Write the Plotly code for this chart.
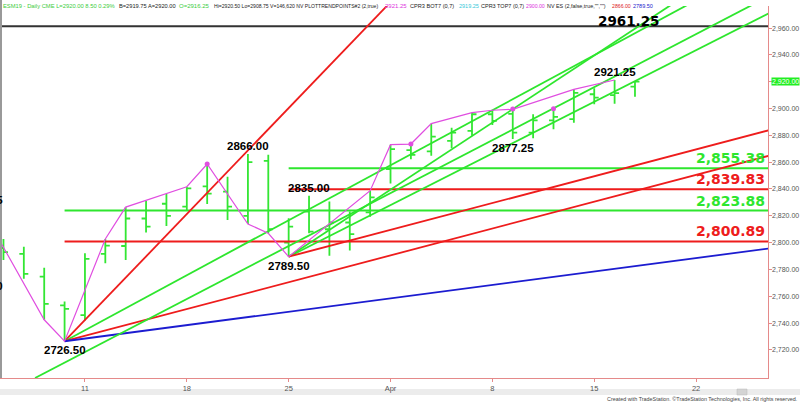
import plotly.graph_objects as go

# ---------------- data ----------------
# trading-day index: 0 = Mar 11, 2019 ; -1 = Mar 8 ...
bar_idx = list(range(-4, 28))
opens  = [2796.0, 2791.6, 2774.7, 2753.2, 2746.0, 2791.6, 2797.5, 2818.0, 2829.0, 2826.8,
          2842.0, 2838.0, 2820.0, 2861.0, 2800.0, 2823.1, 2810.0, 2815.0, 2822.5, 2854.8,
          2868.9, 2868.0, 2875.8, 2883.3, 2895.7, 2896.0, 2882.0, 2891.2, 2892.0, 2910.6,
          2910.0, 2916.25]
highs  = [2802.7, 2797.0, 2781.2, 2756.1, 2792.0, 2802.7, 2826.5, 2831.0, 2836.3, 2841.7,
          2858.6, 2849.2, 2866.0, 2865.5, 2818.2, 2835.0, 2830.7, 2823.3, 2838.7, 2873.0,
          2873.5, 2888.7, 2885.7, 2896.9, 2898.7, 2899.4, 2895.7, 2898.7, 2914.3, 2915.0,
          2921.25, 2920.5]
lows   = [2787.1, 2773.0, 2742.5, 2726.5, 2742.0, 2784.6, 2787.0, 2807.5, 2812.4, 2824.3,
          2828.8, 2816.9, 2813.9, 2807.0, 2789.5, 2807.0, 2790.3, 2794.1, 2819.3, 2844.0,
          2862.2, 2864.7, 2870.4, 2879.6, 2887.7, 2877.25, 2877.8, 2884.5, 2889.4, 2903.1,
          2903.6, 2908.75]
closes = [2793.0, 2776.7, 2754.4, 2750.7, 2787.9, 2797.8, 2818.0, 2812.0, 2820.0, 2840.5,
          2836.6, 2826.8, 2860.0, 2810.0, 2812.0, 2808.2, 2815.0, 2806.4, 2833.7, 2869.7,
          2865.4, 2879.0, 2882.0, 2895.7, 2890.7, 2882.0, 2891.2, 2893.7, 2911.7, 2908.1,
          2911.5, 2920.0]

tick_vals = [0, 5, 10, 15, 20, 25, 30]
tick_text = ["11", "18", "25", "Apr", "8", "15", "22"]
y_ticks = [2720, 2740, 2760, 2780, 2800, 2820, 2840, 2860, 2880, 2900, 2940, 2960]

# zigzag (PLOTTRENDPOINTS) path
zz_x = [-5, -2, -1, 1, 2, 5, 6, 8, 9, 10, 14, 15, 16, 17, 19, 20, 21, 24, 26]
zz_y = [2823.5, 2742.5, 2726.5, 2802.7, 2826.5, 2841.7, 2858.6, 2813.9, 2807.0, 2789.5,
        2838.7, 2873.0, 2873.5, 2888.7, 2896.9, 2898.7, 2899.4, 2914.3, 2921.25]
dot_x = [6, 16, 21, 23]
dot_y = [2858.6, 2873.6, 2899.6, 2899.8]

# trend lines: anchor index, anchor price, points per bar, colour
tl_x0    = [-1, -1, -1, -1, -2.45, 10, 10, 10]
tl_p0    = [2726.5, 2726.5, 2726.5, 2726.5, 2699.1, 2789.5, 2789.5, 2789.5]
tl_slope = [15.8, 8.2, 4.0, 2.0, 7.9, 10.0, 7.7, 4.0]
tl_color = ["red", "green", "red", "blue", "green", "green", "green", "red"]

# horizontal levels
lvl_price = [2961.25, 2855.38, 2839.83, 2823.88, 2800.89]
lvl_start = [-4.2, 10, 10, -1, -1]
lvl_color = ["black", "green", "red", "green", "red"]
lvl_text  = ["2961.25", "2,855.38", "2,839.83", "2,823.88", "2,800.89"]

# point labels
pt_text = ["2726.50", "2866.00", "2835.00", "2789.50", "2877.25", "2921.25"]
pt_x    = [-1, 8, 11, 10, 21, 26]
pt_y    = [2726.5, 2866.0, 2835.0, 2789.5, 2877.25, 2921.25]
pt_pos  = ["below", "above", "above", "below", "below", "above"]

last_price = 2920.00

# ---------------- styling ----------------
W, H = 800, 402
ML, MR, MT, MB = 0, 32, 6, 24
PW, PH = W - ML - MR, H - MT - MB
X_RANGE = [-4.17, 33.53]
Y_RANGE = [2699.1, 2976.4]
COL = {"green": "#2ee62e", "red": "#ee1c1c", "blue": "#1c1cd0", "black": "#333333"}
BAR = "#33e633"
MAG = "#e04ee0"
AXC = "#e58a8a"
FONT = "Liberation Sans, Arial, sans-serif"
WIDE = "DejaVu Sans, Verdana, sans-serif"

def px(xp):   # pixel x -> paper x
    return (xp - ML) / PW

def py(yp):   # pixel y -> paper y
    return (H - MB - yp) / PH

fig = go.Figure()

for p, s, c in zip(lvl_price, lvl_start, lvl_color):
    fig.add_trace(go.Scatter(x=[s, 40], y=[p, p], mode="lines",
                             line=dict(color=COL[c], width=2), hoverinfo="skip",
                             showlegend=False))

for x0, p0, s, c in zip(tl_x0, tl_p0, tl_slope, tl_color):
    x1 = 40
    fig.add_trace(go.Scatter(x=[x0, x1], y=[p0, p0 + s * (x1 - x0)], mode="lines",
                             line=dict(color=COL[c], width=1.8), hoverinfo="skip",
                             showlegend=False))

fig.add_trace(go.Scatter(x=zz_x, y=zz_y, mode="lines", line=dict(color=MAG, width=1.2),
                         hoverinfo="skip", showlegend=False))
fig.add_trace(go.Scatter(x=dot_x, y=dot_y, mode="markers",
                         marker=dict(color=MAG, size=5), hoverinfo="skip", showlegend=False))

fig.add_trace(go.Ohlc(x=bar_idx, open=opens, high=highs, low=lows, close=closes,
                      increasing=dict(line=dict(color=BAR, width=1.8)),
                      decreasing=dict(line=dict(color=BAR, width=1.8)),
                      tickwidth=0.22, hoverinfo="skip", showlegend=False))

ann = []
for t, x, y, pos in zip(pt_text, pt_x, pt_y, pt_pos):
    ann.append(dict(x=x, y=y, xref="x", yref="y", text=t, showarrow=False,
                    yanchor="top" if pos == "below" else "bottom",
                    yshift=-1 if pos == "below" else 0,
                    font=dict(family=FONT, size=11.5, color="black", weight="bold")))

for p, c, t in zip(lvl_price, lvl_color, lvl_text):
    if c == "black":
        ann.append(dict(x=26.7, y=p, xref="x", yref="y", text=t, showarrow=False,
                        yanchor="middle", yshift=5,
                        font=dict(family=WIDE, size=13.5, color="black", weight="bold")))
    else:
        ann.append(dict(x=px(767), y=p, xref="paper", yref="y", text=t, showarrow=False,
                        xanchor="right", yanchor="bottom",
                        font=dict(family=WIDE, size=14, color=COL[c], weight="bold")))

# partially visible labels at left edge
for t, yy in [("2,831.75", py(200)), ("2,767.50", py(286))]:
    ann.append(dict(x=px(5), y=yy, xref="paper", yref="paper", text=t, showarrow=False,
                    xanchor="right", yanchor="middle",
                    font=dict(family=FONT, size=11.5, color="black", weight="bold")))

# right price scale labels
for v in y_ticks:
    ann.append(dict(x=px(771), y=v, xref="paper", yref="y", text=f"{v:,.2f}",
                    showarrow=False, xanchor="left", yanchor="middle", borderpad=0,
                    font=dict(family=FONT, size=7, color="#555555")))

# last price box
ann.append(dict(x=px(770.5), y=last_price, xref="paper", yref="y", text="2,920.00",
                showarrow=False, xanchor="left", yanchor="middle", bgcolor="#22ee22",
                borderpad=0, font=dict(family=FONT, size=7, color="white")))

# header
hdr = [(2, "ESM19 - Daily CME L=2920.00 8.50 0.29%", "#3ccc3c", 5.8),
       (118, "B=2919.75 A=2920.00", "#222222", 5.7),
       (178, "O=2916.25", "#3ccc3c", 6.0),
       (213, "Hi=2920.50 Lo=2908.75 V=146,620 NV PLOTTRENDPOINTS#2 (2,true)", "#222222", 5.1),
       (384, "2921.25", "#dd33dd", 6.0),
       (409, "CPR3 BOT7 (0,7)", "#222222", 5.6),
       (458, "2919.25", "#33c8d8", 5.5),
       (480, "CPR3 TOP7 (0,7)", "#222222", 5.5),
       (525, "2900.00", "#dd33dd", 5.2),
       (546, 'NV ES (2,false,true,"","")', "#222222", 5.4),
       (611, "2866.00", "#dd2222", 5.2),
       (632, "2789.50", "#2222cc", 5.5)]
for x0, t, c, fs in hdr:
    ann.append(dict(x=px(x0), y=py(6), xref="paper", yref="paper", text=t,
                    showarrow=False, xanchor="left", yanchor="middle", borderpad=0,
                    font=dict(family=FONT, size=fs, color=c)))

ann.append(dict(x=px(798), y=py(399), xref="paper", yref="paper",
                text="Created with TradeStation. ©TradeStation Technologies, Inc. All rights reserved.",
                showarrow=False, xanchor="right", yanchor="middle", borderpad=0,
                font=dict(family=FONT, size=5.4, color="#444444")))

shapes = [
    dict(type="line", xref="paper", yref="paper", x0=px(1), x1=px(1), y0=0, y1=py(0),
         line=dict(color="#999999", width=2)),
    dict(type="rect", xref="paper", yref="paper", x0=px(0), x1=px(800), y0=py(395),
         y1=py(389), fillcolor="#ececec", line=dict(width=0), layer="below"),
    dict(type="rect", xref="paper", yref="paper", x0=px(737), x1=px(747), y0=py(395),
         y1=py(389), fillcolor="#d4d4d4", line=dict(color="#bbbbbb", width=0.5)),
]

fig.update_layout(
    width=W, height=H, margin=dict(l=ML, r=MR, t=MT, b=MB, pad=0, autoexpand=False),
    paper_bgcolor="white", plot_bgcolor="white",
    annotations=ann, shapes=shapes, showlegend=False,
    xaxis=dict(range=X_RANGE, tickvals=tick_vals, ticktext=tick_text, showgrid=False,
               zeroline=False, showline=True, linecolor=AXC, linewidth=1,
               ticks="outside", ticklen=3, tickcolor=AXC,
               tickfont=dict(family=FONT, size=7.5, color="#555555"),
               rangeslider=dict(visible=False), fixedrange=True),
    yaxis=dict(range=Y_RANGE, side="right", tickvals=list(range(2720, 2961, 20)),
               showticklabels=False, showgrid=False, zeroline=False, showline=True,
               linecolor=AXC, linewidth=1, ticks="outside", ticklen=3, tickcolor=AXC,
               fixedrange=True),
)

fig.write_html("out.html", config={"displayModeBar": False},
               post_script="document.body.style.margin='0px';document.body.style.overflow='hidden';")
